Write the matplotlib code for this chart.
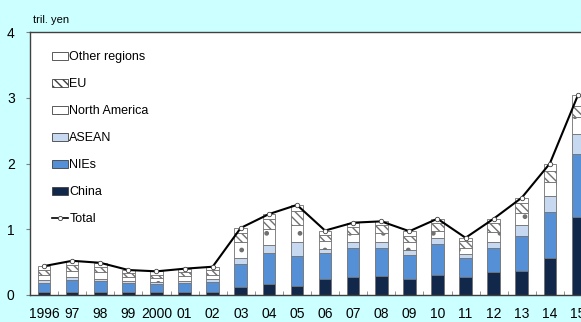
import numpy as np
import matplotlib
matplotlib.use("Agg")
import matplotlib.pyplot as plt
from matplotlib.patches import Patch
from matplotlib.lines import Line2D

plt.rcParams['font.family'] = ['Liberation Sans', 'DejaVu Sans']
plt.rcParams['hatch.linewidth'] = 1.0

# data (tril. yen)
years = ['1996', '97', '98', '99', '2000', '01', '02', '03', '04', '05',
         '06', '07', '08', '09', '10', '11', '12', '13', '14', '15']
china = [0.04, 0.05, 0.05, 0.04, 0.04, 0.04, 0.05, 0.12, 0.17, 0.13,
         0.25, 0.27, 0.29, 0.24, 0.30, 0.27, 0.35, 0.37, 0.57, 1.18]
nies = [0.15, 0.18, 0.17, 0.15, 0.13, 0.14, 0.15, 0.35, 0.47, 0.47,
        0.39, 0.44, 0.43, 0.37, 0.47, 0.29, 0.37, 0.53, 0.69, 0.97]
asean = [0.04, 0.04, 0.03, 0.02, 0.03, 0.04, 0.04, 0.09, 0.12, 0.21,
         0.06, 0.09, 0.09, 0.08, 0.10, 0.06, 0.09, 0.17, 0.24, 0.30]
namerica = [0.08, 0.09, 0.10, 0.06, 0.06, 0.07, 0.07, 0.24, 0.24, 0.25,
            0.12, 0.13, 0.14, 0.11, 0.10, 0.10, 0.15, 0.18, 0.22, 0.25]
eu = [0.07, 0.09, 0.08, 0.06, 0.05, 0.06, 0.07, 0.15, 0.16, 0.22,
      0.10, 0.11, 0.11, 0.10, 0.13, 0.10, 0.14, 0.15, 0.16, 0.18]
other = [0.06, 0.07, 0.06, 0.05, 0.05, 0.05, 0.05, 0.07, 0.07, 0.09,
         0.06, 0.06, 0.06, 0.07, 0.06, 0.05, 0.06, 0.08, 0.12, 0.16]
total = [0.44, 0.52, 0.49, 0.38, 0.36, 0.40, 0.43, 1.02, 1.23, 1.37,
         0.98, 1.10, 1.12, 0.97, 1.16, 0.87, 1.16, 1.48, 2.00, 3.04]

series = [
    ('China', china, '#12284a', None),
    ('NIEs', nies, '#558fd6', None),
    ('ASEAN', asean, '#c6d9f1', None),
    ('North America', namerica, 'white', '.'),
    ('EU', eu, 'white', '\\\\\\\\'),
    ('Other regions', other, 'white', None),
]

bg = '#ccffff'
fig = plt.figure(figsize=(5.81, 3.22), dpi=100, facecolor=bg)
ax = fig.add_axes([30 / 581, 27 / 322, 562 / 581, 263 / 322])
ax.set_facecolor('white')

x = np.arange(len(years))
bottom = np.zeros(len(years))
handles = {}
for name, vals, col, hatch in series:
    vals = np.array(vals)
    ax.bar(x, vals, width=0.45, bottom=bottom, color=col, edgecolor='#707070',
           linewidth=0.6, hatch=hatch, zorder=2)
    handles[name] = Patch(facecolor=col, edgecolor='#404040', linewidth=0.6, hatch=hatch)
    bottom += vals

ax.plot(x, total, color='black', lw=1.5, marker='o', ms=3.2,
        mfc='white', mec='#404040', mew=0.6, zorder=3)
handles['Total'] = Line2D([], [], color='black', lw=1.2, marker='o', ms=3,
                          mfc='white', mec='#404040', mew=0.6)

ax.set_xlim(-0.46, 19.5)
ax.set_ylim(0, 4)
ax.set_yticks([0, 1, 2, 3, 4])
ax.set_xticks(x)
ax.set_xticklabels(years)
ax.set_xticks(np.arange(-0.5, 20, 1), minor=True)
ax.tick_params(axis='x', which='major', length=0, pad=9, labelsize=10)
ax.tick_params(axis='x', which='minor', length=3, direction='in', color='#808080')
ax.tick_params(axis='y', length=3, direction='out', pad=8, labelsize=10, color='#808080')
for s in ['left', 'top', 'bottom']:
    ax.spines[s].set_color('#404040')
    ax.spines[s].set_linewidth(1.0)
ax.spines['right'].set_visible(False)

order = ['Other regions', 'EU', 'North America', 'ASEAN', 'NIEs', 'China', 'Total']
ax.legend([handles[k] for k in order], order, loc='upper left',
          bbox_to_anchor=(0.03, 0.945), frameon=False, fontsize=9,
          handlelength=1.3, handleheight=0.6, handletextpad=0.1,
          labelspacing=1.2, borderaxespad=0)

fig.text(33 / 581, 1 - 20 / 322, 'tril. yen', fontsize=8, va='center', ha='left')
fig.text(0.5, 1.0 + 9 / 322, '[Figure] Direct investment (outflows) by regions',
         fontsize=14, fontweight='bold', ha='center', va='center')

fig.savefig('out.png', dpi=100, facecolor=bg)
